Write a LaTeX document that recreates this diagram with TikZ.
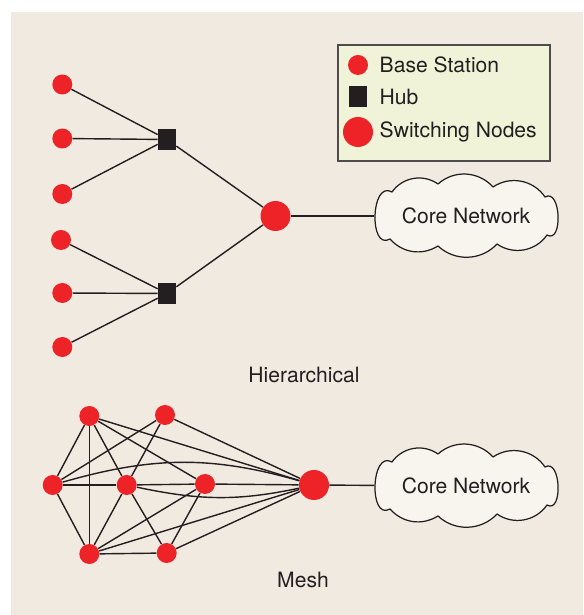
\documentclass[tikz,border=0pt]{standalone}
\usepackage{fontspec}
\setmainfont{TeX Gyre Heros}
\usetikzlibrary{positioning}
\definecolor{nwred}{HTML}{EE2327}
\definecolor{nwdark}{HTML}{231F20}
\definecolor{nwbg}{HTML}{F1EAE1}
\definecolor{nwlegend}{HTML}{F1F3D8}
\definecolor{nwcloud}{HTML}{F7F5EE}

% outline of a core network cloud, around (0,0)
\newcommand{\cloudoutline}{(-1.48,0.48) to[bend left=45] (-0.56,0.64)
  to[bend left=45] (0.54,0.58) to[bend left=45] (1.58,0.38)
  to[out=30, in=-30, looseness=1.25] (1.62,-0.38) to[bend left=45] (0.62,-0.56)
  to[bend left=45] (-0.56,-0.60) to[bend left=40] (-1.52,-0.46)
  to[out=210, in=150, looseness=1.34] cycle}

\begin{document}
\begin{tikzpicture}[
  every node/.style={font=\fontsize{12}{14}\selectfont, text=nwdark},
  basenode/.style={circle, fill=nwred, minimum size=0.4cm, inner sep=0pt},
  hubnode/.style={rectangle, fill=nwdark, minimum width=0.36cm, minimum height=0.41cm, inner sep=0pt},
  switchnode/.style={circle, fill=nwred, minimum size=0.6cm, inner sep=0pt},
  corenode/.style={rectangle, minimum width=3.66cm, minimum height=1.2cm, inner sep=0pt},
  cloudline/.style={draw=nwdark, fill=nwcloud, line width=0.7pt, line join=round},
  legendbox/.style={rectangle, draw=nwdark!80, fill=nwlegend, line width=0.7pt, minimum width=4.24cm, minimum height=2.32cm},
  link/.style={nwdark, line width=0.8pt},
]

\useasboundingbox (0,0) rectangle (11.66,12.3);
\fill[nwbg] (0.22,0) rectangle (11.66,12.06);

% Legend
\node[legendbox] (legend) at (8.88, 10.24) {};
\node[basenode] (lgbase) at (7.16, 11.0) {};
\node[hubnode] (lghub) at (7.16, 10.37) {};
\node[switchnode] (lgswitch) at (7.16, 9.66) {};
\node[anchor=west] (lgbasetext) at (7.47, 11.0) {Base Station};
\node[anchor=west] (lghubtext) at (7.47, 10.37) {Hub};
\node[anchor=west] (lgswitchtext) at (7.47, 9.66) {Switching Nodes};

% Top: hierarchical
\node[basenode] (b1) at (1.246, 10.61) {};
\node[basenode] (b2) at (1.246, 9.53) {};
\node[basenode] (b3) at (1.246, 8.42) {};
\node[basenode] (b4) at (1.22, 7.50) {};
\node[basenode] (b5) at (1.246, 6.44) {};
\node[basenode] (b6) at (1.246, 5.36) {};

\node[hubnode] (h1) at (3.34, 9.51) {};
\node[hubnode] (h2) at (3.34, 6.43) {};

\node[switchnode] (sw1) at (5.51, 7.98) {};
\draw[cloudline, shift={(9.32, 7.98)}] \cloudoutline;
\node[corenode] (core1) at (9.32, 7.98) {Core Network};

\draw[link] (b1) -- (h1);
\draw[link] (b2) -- (h1);
\draw[link] (b3) -- (h1);
\draw[link] (b4) -- (h2);
\draw[link] (b5) -- (h2);
\draw[link] (b6) -- (h2);
\draw[link] (h1) -- (sw1);
\draw[link] (h2) -- (sw1);
\draw[link] (sw1) -- (core1);

\node (hierlabel) at (6.08, 4.80) {Hierarchical};

% Bottom: mesh
\node[basenode] (ma) at (1.786, 3.98) {};
\node[basenode] (mb) at (3.30, 4.00) {};
\node[basenode] (mc) at (1.054, 2.60) {};
\node[basenode] (md) at (2.534, 2.60) {};
\node[basenode] (me) at (4.10, 2.62) {};
\node[basenode] (mf) at (1.786, 1.22) {};
\node[basenode] (mg) at (3.334, 1.24) {};

\node[switchnode] (sw2) at (6.28, 2.60) {};
\draw[cloudline, shift={(9.32, 2.58)}] \cloudoutline;
\node[corenode] (core2) at (9.32, 2.58) {Core Network};

\draw[link] (ma) -- (mc);
\draw[link] (ma) -- (md);
\draw[link] (ma) -- (mf);
\draw[link] (ma) -- (me);
\draw[link] (ma) -- (sw2);
\draw[link] (mb) -- (mc);
\draw[link] (mb) -- (md);
\draw[link] (mb) -- (sw2);
\draw[link] (mc) -- (md);
\draw[link] (md) -- (me);
\draw[link] (me) -- (sw2);
\draw[link] (mc) to[out=16, in=164] (sw2);
\draw[link] (md) to[out=-12, in=-168] (sw2);
\draw[link] (mc) -- (mf);
\draw[link] (md) -- (mf);
\draw[link] (md) -- (mg);
\draw[link] (me) -- (mf);
\draw[link] (me) -- (mg);
\draw[link] (mf) -- (mg);
\draw[link] (mf) -- (sw2);
\draw[link] (mg) -- (sw2);
\draw[link] (sw2) -- (core2);

\node (meshlabel) at (6.06, 0.70) {Mesh};

\end{tikzpicture}
\end{document}
